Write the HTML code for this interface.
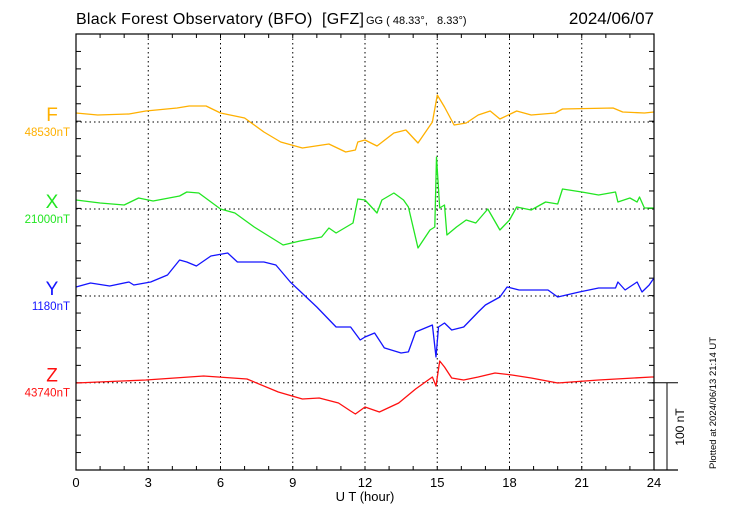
<!DOCTYPE html>
<html><head><meta charset="utf-8"><style>
body{margin:0;background:#fff;}
svg{display:block;font-family:"Liberation Sans",sans-serif;}
text{white-space:pre;}
</style></head><body>
<svg id="chart" width="730" height="520" viewBox="0 0 730 520" xmlns="http://www.w3.org/2000/svg" xml:space="preserve">
<text x="76" y="24" font-size="16" fill="#000" textLength="288">Black Forest Observatory (BFO)  [GFZ]</text>
<text x="366" y="24" font-size="11" fill="#000">GG ( 48.33°,   8.33°)</text>
<text x="654" y="24" font-size="17" text-anchor="end" fill="#000">2024/06/07</text>
<g id="grid"></g>
<g id="series"></g>
<rect x="76" y="34" width="578" height="436" fill="none" stroke="#000" stroke-width="1.2"/>
<line x1="654" y1="382.7" x2="678" y2="382.7" stroke="#000"/>
<line x1="654" y1="470" x2="678" y2="470" stroke="#000" stroke-width="1.2"/>
<line x1="667" y1="382.7" x2="667" y2="470" stroke="#000"/>
<text transform="translate(684,427) rotate(-90)" font-size="12" text-anchor="middle">100 nT</text>
<text transform="translate(716,403) rotate(-90)" font-size="9.5" text-anchor="middle">Plotted at 2024/06/13 21:14 UT</text>
<text x="365" y="501" font-size="13" text-anchor="middle">U T (hour)</text>
<g id="xlabels"></g>
</svg>
<script>
const xTicks = [0,3,6,9,12,15,18,21,24];
const names = ["F","X","Y","Z"];
const baseLabels = ["48530nT","21000nT","1180nT","43740nT"];
const colors = ["#ffb000","#22e622","#1414ff","#ff1010"];
const fH = [0,0.9,2.2,2.9,4.2,4.7,5.4,6,7,7.8,8.5,9.4,10.5,11.2,11.6,11.7,12,12.5,13.2,13.7,14.2,14.8,15,15.3,15.7,16.2,16.7,17.2,17.6,18.3,18.9,19.9,20.2,22.3,22.7,23.6,24];
const fV = [10.3,8,9.2,12.6,16.1,18.4,18.4,10.3,4.6,-11.5,-23,-29.9,-25.3,-34.5,-32.2,-23,-20.7,-27.6,-12.6,-9.2,-24.1,0,31,17.2,-3.4,-1.1,8,12.6,3.4,12.6,8,10.3,14.9,16.1,11.5,10.3,11.5];
const xH = [0,1,2,2.6,3.2,4.3,4.6,5.1,6,6.6,7.4,8.6,9.3,10.2,10.5,10.8,11.5,11.7,12,12.5,12.7,13.2,13.6,13.8,14.2,14.7,14.9,14.97,15.1,15.3,15.4,15.8,16.2,16.6,17.1,17.6,18,18.3,18.9,19.5,20,20.2,21,21.7,22.4,22.5,23,23.3,23.4,23.6,24];
const xV = [10.3,6.9,4.6,12.6,9.2,14.9,19.5,18.4,0,-4.6,-20.7,-41.4,-36.8,-32.2,-21.8,-27.6,-16.1,11.5,10.3,-4.6,10.3,18.4,10.3,2.3,-44.8,-24.1,-20.7,59.7,1.1,4.6,-29.9,-20.7,-12.6,-16.1,0,-24.1,-12.6,2.3,-1.1,8,5.7,23,19.5,16.1,19.5,8,12.6,8,13.8,1.1,1.1];
const yH = [0,0.6,1.4,2.2,2.4,3.1,3.8,4.3,4.6,5.0,5.6,6.3,6.7,7.8,8.3,8.9,10,10.8,11.4,11.8,12,12.4,12.8,13.5,13.8,14.1,14.8,14.95,15.05,15.3,15.6,16.1,16.7,17,17.6,17.9,18.4,19.6,20,20.9,21.7,22.4,22.5,22.8,23.3,23.5,23.8,24];
const yV = [10.3,14.9,11.5,16.1,12.6,16.1,24.1,41.4,39.1,34.5,46,49.4,39.1,39.1,35.6,16.1,-12.6,-35.6,-35.6,-50.6,-47.1,-42.5,-59.7,-65.5,-64.3,-41.4,-33.3,-70.1,-35.6,-31,-39.1,-35.6,-18.4,-10.3,-1.1,10.3,6.9,6.9,-1.1,4.6,9.2,9.2,16.1,6.9,16.1,4.6,12.6,20.7];
const zH = [0,2.9,5.3,6.5,7.1,8.4,9.4,10.1,10.9,11.4,11.6,12,12.6,13.4,14.1,14.8,14.95,15.1,15.3,15.6,16.1,16.7,17.4,18.1,18.9,20,21.7,23.9,24];
const zV = [-0.3,3.1,7.7,5.4,4.3,-10.7,-18.7,-17.6,-23.3,-32.5,-36,-27.9,-33.7,-23.3,-7.2,6.5,-3.8,24.9,18,5.4,3.1,6.5,11.1,8.8,5.4,-0.3,3.1,6.5,6.5];

const NS="http://www.w3.org/2000/svg";
const X0=76,X1=654,TOP=34,BOT=470;
const bases=[122,209,296,382.7];
const pxPerNT=0.87;
function xs(h){return X0+(X1-X0)*h/24;}
function ys(i,v){return bases[i]-v*pxPerNT;}
function mk(tag,attrs,parent){const e=document.createElementNS(NS,tag);for(const k in attrs)e.setAttribute(k,attrs[k]);parent.appendChild(e);return e;}
const grid=document.getElementById('grid');
xTicks.forEach(t=>{if(t>0&&t<24){const l=mk('line',{x1:xs(t),y1:TOP,x2:xs(t),y2:BOT,stroke:'#000','stroke-dasharray':'1.5,3'},grid);

}});
bases.forEach((b,i)=>{const l=mk('line',{x1:X0,y1:b,x2:X1,y2:b,stroke:'#000','stroke-dasharray':'1.5,3'},grid);

});
for(let h=0;h<=24;h++){const x=xs(h);
const a=mk('line',{x1:x,y1:TOP,x2:x,y2:TOP+4,stroke:'#000'},grid);


const b=mk('line',{x1:x,y1:BOT,x2:x,y2:BOT-4,stroke:'#000'},grid);

}
for(let k=0;k<=25;k++){const y=TOP+k*436/25;
const a=mk('line',{x1:X0,y1:y,x2:X0+5,y2:y,stroke:'#000'},grid);


const b=mk('line',{x1:X1,y1:y,x2:X1-5,y2:y,stroke:'#000'},grid);

}
const xl=document.getElementById('xlabels');
xTicks.forEach(t=>{const e=mk('text',{x:xs(t),y:487,'font-size':13,'text-anchor':'middle'},xl);e.textContent=t;

});
const ser=document.getElementById('series');
const HS=[fH,xH,yH,zH],VS=[fV,xV,yV,zV];
for(let i=0;i<4;i++){
const d=HS[i].map((h,j)=>(j?'L':'M')+xs(h).toFixed(1)+','+ys(i,VS[i][j]).toFixed(1)).join('');
const p=mk('path',{d:d,fill:'none',stroke:colors[i],'stroke-width':1.3,'stroke-linejoin':'round'},ser);


const t=mk('text',{x:52,y:bases[i]-1,'font-size':19,'text-anchor':'middle',fill:colors[i]},ser);t.textContent=names[i];


const u=mk('text',{x:70,y:bases[i]+14,'font-size':11.5,'text-anchor':'end',fill:colors[i]},ser);u.textContent=baseLabels[i];


}
</script>
</body></html>
